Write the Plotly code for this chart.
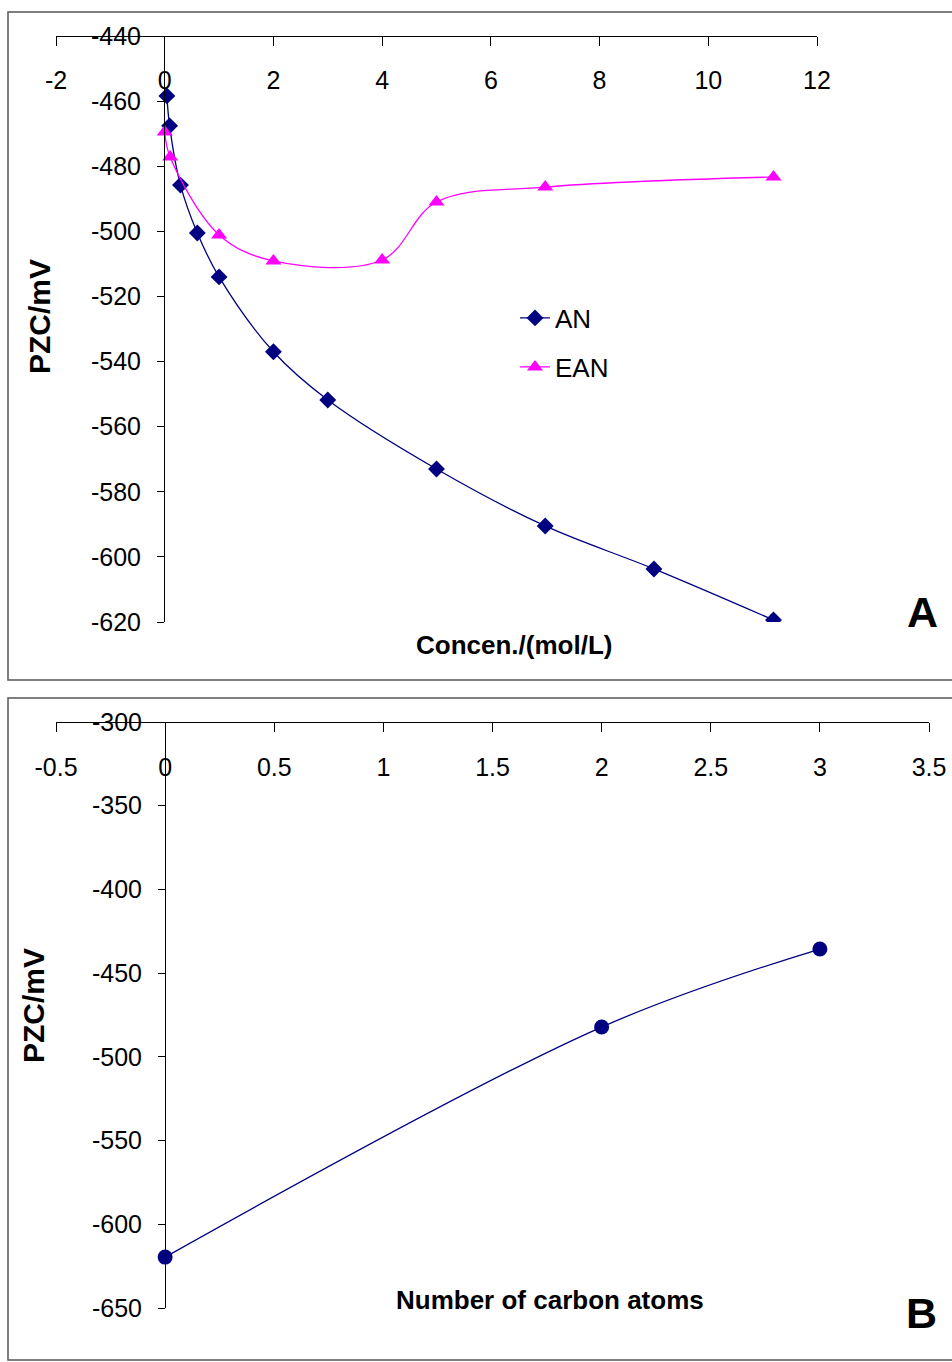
import plotly.graph_objects as go

W, H = 952, 1362

# Panel A data
an_x = [0.04, 0.09, 0.29, 0.6, 1.0, 2.0, 3.0, 5.0, 7.0, 9.0, 11.2]
an_y = [-458.4, -467.6, -485.8, -500.5, -514.0, -537.0, -551.8, -573.0, -590.5, -603.7, -619.4]
ean_x = [0.0, 0.1, 1.0, 2.0, 4.0, 5.0, 7.0, 11.2]
ean_y = [-469.5, -477.2, -501.1, -509.1, -508.8, -491.0, -486.4, -483.3]
a_xticks = [-2, 0, 2, 4, 6, 8, 10, 12]
a_yticks = [-440, -460, -480, -500, -520, -540, -560, -580, -600, -620]

# Panel B data
b_x = [0, 2, 3]
b_y = [-619.6, -482.2, -435.6]
b_xticks = [-0.5, 0, 0.5, 1, 1.5, 2, 2.5, 3, 3.5]
b_yticks = [-300, -350, -400, -450, -500, -550, -600, -650]


def px(x):
    return x / W


def py(y):
    return 1 - y / H


def lab(v):
    return ("%g" % v)


FONT = "Liberation Sans, Arial, sans-serif"
NARROW = "Liberation Sans Narrow, Arial Narrow, Liberation Sans, Arial, sans-serif"

fig = go.Figure()
fig.add_trace(go.Scatter(x=an_x, y=an_y, name="AN", mode="lines+markers",
                         line=dict(color="#000080", width=1.3, shape="spline", smoothing=1.0),
                         marker=dict(symbol="diamond", size=13, color="#000080"),
                         xaxis="x", yaxis="y", legend="legend"))
fig.add_trace(go.Scatter(x=ean_x, y=ean_y, name="EAN", mode="lines+markers",
                         line=dict(color="#FF00FF", width=1.3, shape="spline", smoothing=1.0),
                         marker=dict(symbol="triangle-up", size=14, color="#FF00FF"),
                         xaxis="x", yaxis="y", legend="legend2"))
fig.add_trace(go.Scatter(x=b_x, y=b_y, name="B", mode="lines+markers", showlegend=False,
                         line=dict(color="#000080", width=1.3, shape="spline", smoothing=1.0),
                         marker=dict(symbol="circle", size=15, color="#000080"),
                         xaxis="x2", yaxis="y2"))

common = dict(showgrid=False, zeroline=False, showline=True, linecolor="black", linewidth=1,
              ticks="outside", tickcolor="black", tickwidth=1, automargin=False,
              tickfont=dict(family=FONT, size=25, color="black"))

fig.update_layout(
    template="none",
    width=W, height=H, margin=dict(l=0, r=0, t=0, b=0, autoexpand=False),
    paper_bgcolor="white", plot_bgcolor="rgba(0,0,0,0)",
    xaxis=dict(common, domain=[px(56), px(817)], range=[-2, 12], anchor="free",
               position=py(36), side="bottom", tickvals=a_xticks,
               ticktext=[lab(v) for v in a_xticks], ticklen=9, ticklabelstandoff=13),
    yaxis=dict(common, domain=[py(622), py(36)], range=[-620, -440], anchor="free",
               position=px(164), side="left", tickvals=a_yticks,
               ticktext=[lab(v) for v in a_yticks], ticklen=7, ticklabelstandoff=11),
    xaxis2=dict(common, domain=[px(56), px(929)], range=[-0.5, 3.5], anchor="free",
                position=py(722), side="bottom", tickvals=b_xticks,
                ticktext=[lab(v) for v in b_xticks], ticklen=9, ticklabelstandoff=14),
    yaxis2=dict(common, domain=[py(1308), py(722)], range=[-650, -300], anchor="free",
                position=px(165), side="left", tickvals=b_yticks,
                ticktext=[lab(v) for v in b_yticks], ticklen=7, ticklabelstandoff=11),
    legend=dict(x=px(515), y=py(318), xanchor="left", yanchor="middle",
                bgcolor="rgba(0,0,0,0)", borderwidth=0,
                font=dict(family=FONT, size=26, color="black")),
    legend2=dict(x=px(515), y=py(367), xanchor="left", yanchor="middle",
                 bgcolor="rgba(0,0,0,0)", borderwidth=0,
                 font=dict(family=FONT, size=26, color="black")),
)

# Panel frames
for (y0, y1) in [(12, 680), (698, 1360)]:
    fig.add_shape(type="rect", xref="paper", yref="paper",
                  x0=px(8), x1=px(960), y0=py(y1), y1=py(y0),
                  line=dict(color="#555555", width=1.5), fillcolor="rgba(0,0,0,0)")

ann = [
    dict(text="PZC/mV", x=px(39), y=py(317), textangle=-90, size=30, family=NARROW),
    dict(text="Concen./(mol/L)", x=px(514), y=py(645), textangle=0, size=26, family=NARROW),
    dict(text="A", x=px(922), y=py(612), textangle=0, size=43, family=FONT),
    dict(text="PZC/mV", x=px(33), y=py(1006), textangle=-90, size=30, family=NARROW),
    dict(text="Number of carbon atoms", x=px(550), y=py(1300), textangle=0, size=26, family=NARROW),
    dict(text="B", x=px(921), y=py(1313), textangle=0, size=43, family=FONT),
]
for a in ann:
    fig.add_annotation(text="<b>%s</b>" % a["text"], x=a["x"], y=a["y"], xref="paper", yref="paper",
                       xanchor="center", yanchor="middle", showarrow=False, textangle=a["textangle"],
                       font=dict(family=a["family"], size=a["size"], color="black"))

fig.write_html("out.html")
